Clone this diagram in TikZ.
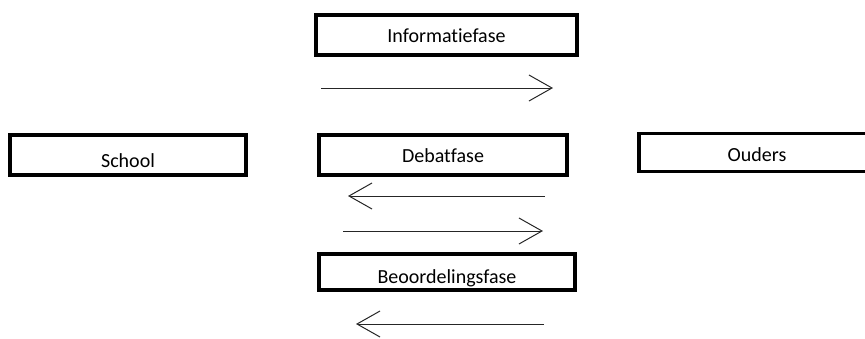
\documentclass[tikz,border=0pt]{standalone}
\usepackage{fontspec}
\setmainfont{Carlito}[Ligatures=NoCommon]
\usetikzlibrary{arrows.meta}

\begin{document}
\begin{tikzpicture}[x=1pt,y=-1pt,
  fase/.style={draw, line width=3.5pt, rectangle, minimum height=40pt, inner sep=0pt,
    font=\fontsize{20}{24}\selectfont, text height=14pt, text depth=0pt},
  pijl/.style={line width=1pt, black!85, -{Straight Barb[length=23pt,width=26pt,line width=1pt]}}]
\useasboundingbox (0,0) rectangle (865,338);
\node[fase, minimum width=261pt] (info) at (446.5,35) {Informatiefase};
\node[fase, minimum width=248pt] (debat) at (443,155) {Debatfase};
\node[fase, minimum width=256pt, minimum height=36pt, text height=22pt] (beoord) at (447,272) {Beoordelingsfase};
\node[fase, minimum width=236pt, text height=24pt] (school) at (128,155) {School};
\node[fase, minimum width=236pt, minimum height=38pt, text height=17pt] (ouders) at (757,152.5) {Ouders};
% pijlen tussen de fases
\coordinate (p1a) at (321,88);
\coordinate (p1b) at (553,88);
\coordinate (p2a) at (545,196);
\coordinate (p2b) at (348,196);
\coordinate (p3a) at (343,231);
\coordinate (p3b) at (543,231);
\coordinate (p4a) at (544,324);
\coordinate (p4b) at (356,324);
\draw[pijl] (p1a) -- (p1b);
\draw[pijl] (p2a) -- (p2b);
\draw[pijl] (p3a) -- (p3b);
\draw[pijl] (p4a) -- (p4b);
\end{tikzpicture}
\end{document}
